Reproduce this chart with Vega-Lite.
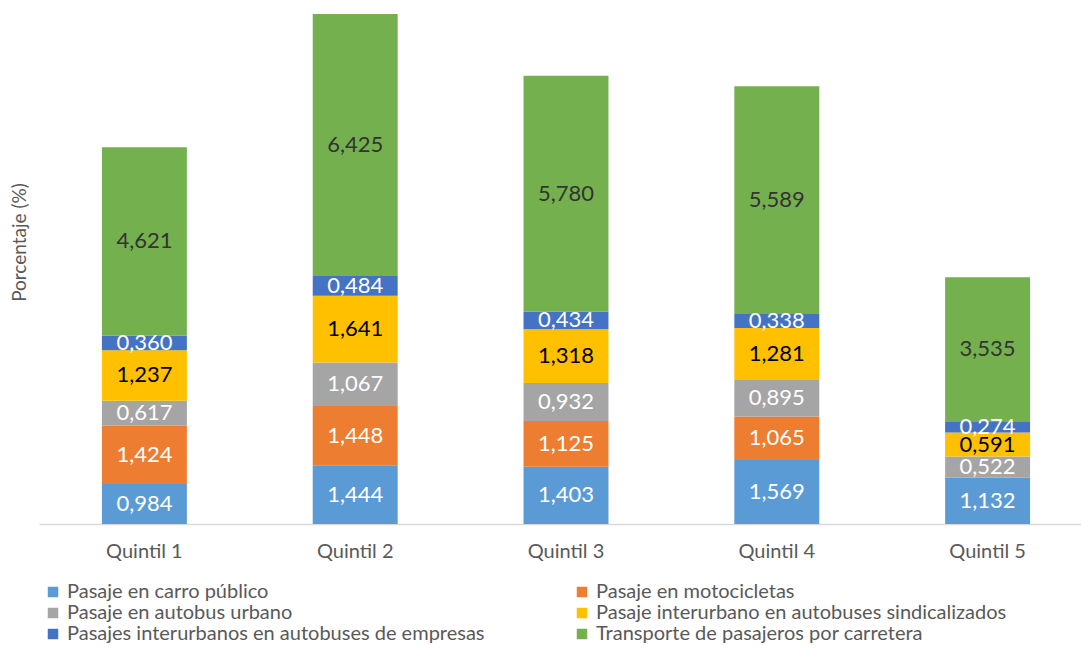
{
  "$schema": "https://vega.github.io/schema/vega-lite/v6.json",
  "width": 1054,
  "height": 510,
  "autosize": {"type": "none"},
  "padding": {"left": 39, "top": 14, "right": 0, "bottom": 126},
  "background": "white",
  "config": {
    "view": {"stroke": null},
    "font": "Lato",
    "locale": {"number": {"decimal": ",", "thousands": ".", "grouping": [3], "currency": ["", ""]}}
  },
  "data": {
    "values": [
      {"q": "Quintil 1", "s": "Pasaje en carro público", "o": 1, "v": 0.984},
      {"q": "Quintil 1", "s": "Pasaje en motocicletas", "o": 2, "v": 1.424},
      {"q": "Quintil 1", "s": "Pasaje en autobus urbano", "o": 3, "v": 0.617},
      {"q": "Quintil 1", "s": "Pasaje interurbano en autobuses sindicalizados", "o": 4, "v": 1.237},
      {"q": "Quintil 1", "s": "Pasajes interurbanos en autobuses de empresas", "o": 5, "v": 0.360},
      {"q": "Quintil 1", "s": "Transporte de pasajeros por carretera", "o": 6, "v": 4.621},
      {"q": "Quintil 2", "s": "Pasaje en carro público", "o": 1, "v": 1.444},
      {"q": "Quintil 2", "s": "Pasaje en motocicletas", "o": 2, "v": 1.448},
      {"q": "Quintil 2", "s": "Pasaje en autobus urbano", "o": 3, "v": 1.067},
      {"q": "Quintil 2", "s": "Pasaje interurbano en autobuses sindicalizados", "o": 4, "v": 1.641},
      {"q": "Quintil 2", "s": "Pasajes interurbanos en autobuses de empresas", "o": 5, "v": 0.484},
      {"q": "Quintil 2", "s": "Transporte de pasajeros por carretera", "o": 6, "v": 6.425},
      {"q": "Quintil 3", "s": "Pasaje en carro público", "o": 1, "v": 1.403},
      {"q": "Quintil 3", "s": "Pasaje en motocicletas", "o": 2, "v": 1.125},
      {"q": "Quintil 3", "s": "Pasaje en autobus urbano", "o": 3, "v": 0.932},
      {"q": "Quintil 3", "s": "Pasaje interurbano en autobuses sindicalizados", "o": 4, "v": 1.318},
      {"q": "Quintil 3", "s": "Pasajes interurbanos en autobuses de empresas", "o": 5, "v": 0.434},
      {"q": "Quintil 3", "s": "Transporte de pasajeros por carretera", "o": 6, "v": 5.780},
      {"q": "Quintil 4", "s": "Pasaje en carro público", "o": 1, "v": 1.569},
      {"q": "Quintil 4", "s": "Pasaje en motocicletas", "o": 2, "v": 1.065},
      {"q": "Quintil 4", "s": "Pasaje en autobus urbano", "o": 3, "v": 0.895},
      {"q": "Quintil 4", "s": "Pasaje interurbano en autobuses sindicalizados", "o": 4, "v": 1.281},
      {"q": "Quintil 4", "s": "Pasajes interurbanos en autobuses de empresas", "o": 5, "v": 0.338},
      {"q": "Quintil 4", "s": "Transporte de pasajeros por carretera", "o": 6, "v": 5.589},
      {"q": "Quintil 5", "s": "Pasaje en carro público", "o": 1, "v": 1.132},
      {"q": "Quintil 5", "s": "Pasaje en autobus urbano", "o": 3, "v": 0.522},
      {"q": "Quintil 5", "s": "Pasaje interurbano en autobuses sindicalizados", "o": 4, "v": 0.591},
      {"q": "Quintil 5", "s": "Pasajes interurbanos en autobuses de empresas", "o": 5, "v": 0.274},
      {"q": "Quintil 5", "s": "Transporte de pasajeros por carretera", "o": 6, "v": 3.535}
    ]
  },
  "transform": [
    {"stack": "v", "groupby": ["q"], "sort": [{"field": "o", "order": "ascending"}], "as": ["v0", "v1"]},
    {"calculate": "(datum.v0 + datum.v1) / 2", "as": "mid"}
  ],
  "encoding": {
    "x": {
      "field": "q", "type": "nominal",
      "scale": {"paddingInner": 0.597, "paddingOuter": 0.2985},
      "axis": {
        "title": null, "labelAngle": 0, "ticks": false,
        "domainColor": "#D9D9D9", "domainWidth": 1.5,
        "labelFontSize": 20, "labelColor": "#595959", "labelPadding": 17, "labelFont": "Lato"
      }
    }
  },
  "layer": [
    {
      "mark": {"type": "bar"},
      "encoding": {
        "y": {
          "field": "v0", "type": "quantitative",
          "scale": {"domain": [0, 12.509], "nice": false, "zero": true},
          "axis": {
            "title": "Porcentaje (%)", "labels": false, "ticks": false, "domain": false, "grid": false,
            "titleFontSize": 19, "titleFontWeight": "normal", "titleColor": "#595959", "titleFont": "Lato",
            "titleX": -10, "titleY": 228, "titleAngle": -90, "titleAlign": "center", "titleBaseline": "bottom"
          }
        },
        "y2": {"field": "v1"},
        "color": {
          "field": "s", "type": "nominal",
          "scale": {
            "domain": [
              "Pasaje en carro público",
              "Pasaje en motocicletas",
              "Pasaje en autobus urbano",
              "Pasaje interurbano en autobuses sindicalizados",
              "Pasajes interurbanos en autobuses de empresas",
              "Transporte de pasajeros por carretera"
            ],
            "range": ["#5B9BD5", "#ED7D31", "#A5A5A5", "#FFC000", "#4472C4", "#74B04E"]
          },
          "legend": {
            "title": null, "orient": "none", "legendX": 4, "legendY": 568,
            "columns": 2, "direction": "horizontal",
            "symbolType": "square", "symbolSize": 110, "symbolStrokeWidth": 0,
            "labelFontSize": 20, "labelColor": "#595959", "labelFont": "Lato", "labelOffset": 4,
            "labelLimit": 600, "rowPadding": 1, "columnPadding": 87
          }
        },
        "order": {"field": "o"}
      }
    },
    {
      "mark": {"type": "text", "fontSize": 22, "baseline": "middle", "align": "center", "font": "Lato"},
      "encoding": {
        "y": {"field": "mid", "type": "quantitative"},
        "text": {"field": "v", "type": "quantitative", "format": ".3f"},
        "color": {
          "condition": [
            {"test": "datum.o == 4", "value": "#000000"},
            {"test": "datum.o == 6", "value": "#333333"}
          ],
          "value": "#FFFFFF"
        }
      }
    }
  ]
}
